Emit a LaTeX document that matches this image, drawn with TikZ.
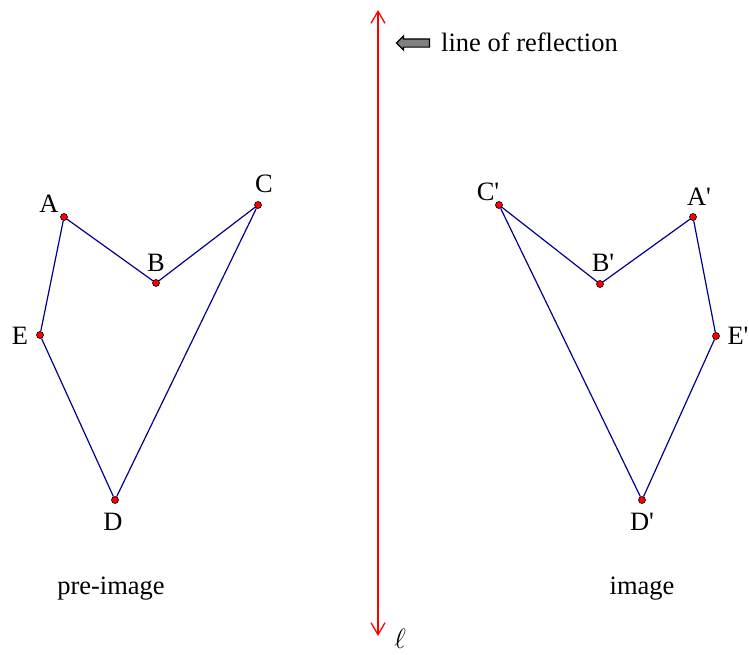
\RequirePackage{fix-cm}
\documentclass[tikz,border=0pt]{standalone}
\usepackage{fontspec}
\setmainfont{Liberation Serif}
\usetikzlibrary{arrows.meta,positioning,shapes.arrows}
\definecolor{Edge}{HTML}{00008B}
\definecolor{Mirror}{HTML}{FF0000}
\definecolor{Pointer}{HTML}{808080}
\tikzset{
 pt/.style={circle,draw=black,fill=red,inner sep=0pt,minimum size=7pt,line width=.6pt},
 lbl/.style={font=\fontsize{26.5}{30}\selectfont,inner sep=0pt},
 side/.style={draw=Edge,line width=1.2pt},
 mirror/.style={draw=Mirror,line width=1.3pt,{Straight Barb[length=12pt,width=14pt]}-{Straight Barb[length=12pt,width=14pt]}},
 pointer/.style={single arrow,draw=black,fill=Pointer,line width=1.2pt,shape border rotate=180,minimum height=33pt,minimum width=14pt,single arrow head extend=3pt,single arrow head indent=0pt,inner xsep=0pt,inner ysep=3.5pt}
}
\begin{document}
\begin{tikzpicture}[x=1pt,y=-1pt]
\useasboundingbox (0,0) rectangle (749,654);
% points and their labels
\foreach \n/\x/\y/\lx/\ly/\t in {A/64/217/49/204/A,B/156/283/156/263/B,C/258/205/264/184/C,D/115/500/113/522/D,E/40/335/20/336/E,
  Ai/693/217/699/197/A\textquotesingle,Bi/600/284/603/263/B\textquotesingle,Ci/499/205/488/192/C\textquotesingle,
  Di/642/500/642/522/D\textquotesingle,Ei/716/336/738/336/E\textquotesingle} {
 \node[pt] (\n) at (\x,\y) {};
 \node[lbl] (\n-lbl) at (\lx,\ly) {\t};
}
\draw[side] (A) -- (B) -- (C) -- (D) -- (E) -- (A);
\draw[side] (Ai) -- (Bi) -- (Ci) -- (Di) -- (Ei) -- (Ai);
% mirror line
\coordinate (top) at (378,10);
\coordinate (bottom) at (378,636);
\draw[mirror] (top) -- (bottom);
\node[lbl,font=\fontsize{28}{32}\selectfont] (ell) at (400,639) {$\ell$};
\node[pointer] (arrow) at (415,43) {};
\node[lbl,anchor=west] (reflection) at (441,42) {line of reflection};
\node[lbl] (pre) at (111,589) {pre-image};
\node[lbl] (img) at (642,589) {image};
\end{tikzpicture}
\end{document}
